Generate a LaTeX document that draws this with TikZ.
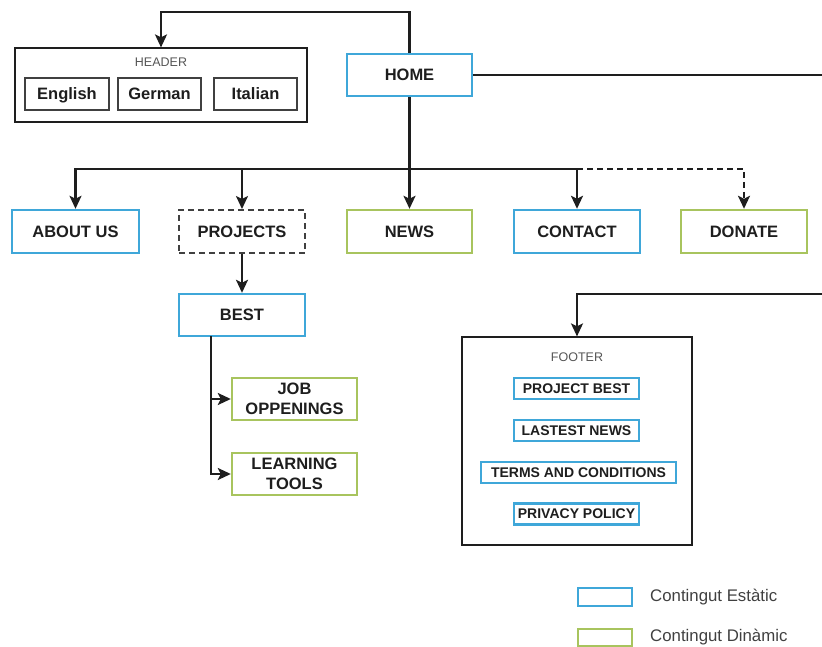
\documentclass[tikz,border=0pt]{standalone}
\usepackage{fontspec}
\setmainfont{Liberation Sans}
\usetikzlibrary{arrows.meta}
\definecolor{stblue}{HTML}{3FA7D9}
\definecolor{dyngreen}{HTML}{A8C45E}
\definecolor{ink}{HTML}{1E1E1E}
\tikzset{
  box/.style={draw, line width=2.4pt, fill=white, inner sep=0pt, align=center,
     font=\fontsize{16.5}{19.5}\selectfont\bfseries, text=ink},
  stat/.style={box, draw=stblue},
  dyn/.style={box, draw=dyngreen},
  lang/.style={box, draw=ink!85, line width=2.2pt, minimum width=84pt, minimum height=32pt,
     text height=12pt, text depth=0pt, font=\fontsize{16.5}{18}\selectfont\bfseries},
  foot/.style={box, draw=stblue, line width=2.2pt, minimum height=21pt, font=\fontsize{14}{16}\selectfont\bfseries},
  frame/.style={draw=ink, line width=1.2pt, fill=white, inner sep=0pt},
  conn/.style={draw=ink, line width=2.2pt},
  arr/.style={conn, -{Stealth[length=13pt,width=12pt,inset=3pt]}},
  small/.style={font=\fontsize{12.5}{14}\selectfont, text=ink!75},
  legtxt/.style={font=\fontsize{16.8}{18}\selectfont, text=ink!85, anchor=west, inner sep=0pt}
}
\begin{document}
\begin{tikzpicture}[x=1pt,y=-1pt]
\useasboundingbox (0,0) rectangle (822,647);
% header
\node[frame, minimum width=292pt, minimum height=74pt] (header) at (161,85) {};
\node[small] (hlab) at (161,62) {HEADER};
\node[lang] (en) at (67,94) {English};
\node[lang, minimum width=83pt] (de) at (159.5,94) {German};
\node[lang, minimum width=83pt] (it) at (255.5,94) {Italian};
% home
\node[stat, minimum width=125pt, minimum height=42pt] (home) at (409.5,75) {HOME};
% second row
\node[stat, minimum width=127pt, minimum height=43pt] (about) at (75.5,231.5) {ABOUT US};
\node[box, draw=ink!85, dashed, dash pattern=on 6pt off 4pt, line width=2pt, minimum width=126pt, minimum height=43pt] (proj) at (242,231.5) {PROJECTS};
\node[dyn, minimum width=125pt, minimum height=43pt] (news) at (409.5,231.5) {NEWS};
\node[stat, minimum width=126pt, minimum height=43pt] (contact) at (577,231.5) {CONTACT};
\node[dyn, minimum width=126pt, minimum height=43pt] (donate) at (744,231.5) {DONATE};
% best
\node[stat, minimum width=126pt, minimum height=42pt] (best) at (242,315) {BEST};
\node[dyn, minimum width=125pt, minimum height=42pt] (job) at (294.5,399) {JOB\\OPPENINGS};
\node[dyn, minimum width=125pt, minimum height=42pt] (learn) at (294.5,474) {LEARNING\\TOOLS};
% footer
\node[frame, minimum width=230pt, minimum height=208pt] (footer) at (577,441) {};
\node[small] (flab) at (577,357) {FOOTER};
\node[foot, minimum width=125pt] (pb) at (576.5,388.5) {PROJECT BEST};
\node[foot, minimum width=125pt] (ln) at (576.5,430.5) {LASTEST NEWS};
\node[foot, minimum width=195pt] (tc) at (578.5,472.5) {TERMS AND CONDITIONS};
\node[foot, minimum width=125pt] (pp) at (576.5,514) {PRIVACY POLICY};
% legend
\node[draw=stblue, line width=2.2pt, minimum width=54pt, minimum height=18pt, inner sep=0pt] (lg1) at (605,597) {};
\node[legtxt] (lt1) at (650,597) {Contingut Estàtic};
\node[draw=dyngreen, line width=2.2pt, minimum width=54pt, minimum height=17pt, inner sep=0pt] (lg2) at (605,637.5) {};
\node[legtxt] (lt2) at (650,637.5) {Contingut Dinàmic};
% connectors
\coordinate (top) at (409.5,12);
\draw[arr] (home.north) -- (top) -| (header.north);
\coordinate (rE) at (823,75);
\draw[conn] (home.east) -- (rE);
\coordinate (bus) at (409.5,169);
\draw[conn] (home.south) -- (bus);
\draw[arr] (bus) -| (about.north);
\draw[arr] (bus) -| (proj.north);
\draw[arr] (bus) -- (news.north);
\draw[arr] (bus) -| (contact.north);
\draw[arr, dashed, dash pattern=on 6pt off 4pt] (contact.north |- bus) -| (donate.north);
\draw[arr] (proj.south) -- (best.north);
\coordinate (bx) at (211,336);
\draw[arr] (bx) |- (job.west);
\draw[arr] (bx) |- (learn.west);
\coordinate (rF) at (823,294);
\draw[arr] (rF) -| (footer.north);
\end{tikzpicture}
\end{document}
